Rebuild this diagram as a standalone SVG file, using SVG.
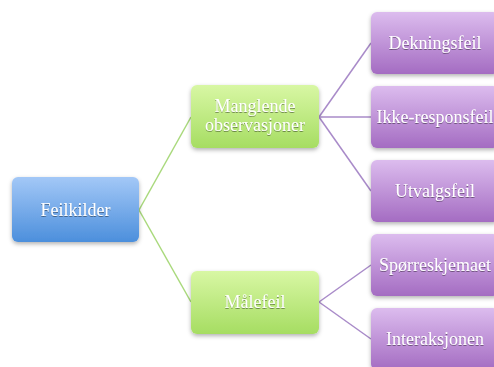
<svg xmlns="http://www.w3.org/2000/svg" width="494" height="367" viewBox="0 0 494 367">
<defs>
<linearGradient id="gb" x1="0" y1="0" x2="0" y2="1"><stop offset="0" stop-color="#a3c8f7"/><stop offset="1" stop-color="#4c8fdc"/></linearGradient>
<linearGradient id="gg" x1="0" y1="0" x2="0" y2="1"><stop offset="0" stop-color="#d8f7a4"/><stop offset="1" stop-color="#a6dd62"/></linearGradient>
<linearGradient id="gp" x1="0" y1="0" x2="0" y2="1"><stop offset="0" stop-color="#dcbcee"/><stop offset="1" stop-color="#a46cc2"/></linearGradient>
<filter id="sh" x="-10%" y="-10%" width="125%" height="135%"><feDropShadow dx="0" dy="2" stdDeviation="2" flood-color="#000" flood-opacity="0.3"/></filter>
<filter id="ts"><feDropShadow dx="0" dy="1" stdDeviation="0.6" flood-color="#000" flood-opacity="0.4"/></filter>
</defs>
<style>
.b{fill:url(#gb);filter:url(#sh)}
.g{fill:url(#gg);filter:url(#sh)}
.p{fill:url(#gp);filter:url(#sh)}
text{font-family:"Liberation Serif","DejaVu Serif",serif;font-size:18px;fill:#fff;text-anchor:middle;filter:url(#ts)}
.cg{stroke:#a9d97c;stroke-width:1.5;fill:none}
.cp{stroke:#a98bc9;stroke-width:1.5;fill:none}
</style>
<rect width="494" height="367" fill="#fff"/>
<g id="connectors">
<path class="cg" d="M139 210 L191 117"/>
<path class="cg" d="M139 210 L191 302"/>
<path class="cp" d="M319 117 L371 43"/>
<path class="cp" d="M319 117 L371 117"/>
<path class="cp" d="M319 117 L371 191"/>
<path class="cp" d="M319 302 L371 265"/>
<path class="cp" d="M319 302 L371 339"/>
</g>
<g id="feilkilder"><rect class="b" x="12" y="177" width="127" height="65" rx="6"/><text x="75.5" y="216">Feilkilder</text></g>
<g id="manglende"><rect class="g" x="191" y="85" width="128" height="63" rx="6"/><text x="255" y="112">Manglende</text><text x="255" y="131">observasjoner</text></g>
<g id="malefeil"><rect class="g" x="191" y="271" width="128" height="63" rx="6"/><text x="255" y="308">Målefeil</text></g>
<g id="dekningsfeil"><rect class="p" x="371" y="12" width="128" height="62" rx="6"/><text x="435" y="49">Dekningsfeil</text></g>
<g id="ikke"><rect class="p" x="371" y="86" width="128" height="62" rx="6"/><text x="435" y="123">Ikke-responsfeil</text></g>
<g id="utvalgsfeil"><rect class="p" x="371" y="160" width="128" height="62" rx="6"/><text x="435" y="197">Utvalgsfeil</text></g>
<g id="sporreskjemaet"><rect class="p" x="371" y="234" width="128" height="62" rx="6"/><text x="435" y="271">Spørreskjemaet</text></g>
<g id="interaksjonen"><rect class="p" x="371" y="308" width="128" height="62" rx="6"/><text x="435" y="345">Interaksjonen</text></g>
</svg>
